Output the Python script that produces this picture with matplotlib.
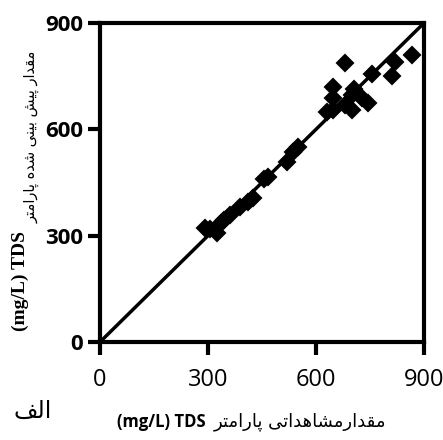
import matplotlib
matplotlib.use("Agg")
from matplotlib import pyplot as plt

observed = [292, 305, 325, 335, 345, 360, 390, 410, 425, 455, 468, 520, 535, 550,
            630, 648, 648, 648, 680, 681, 700, 705, 700, 728, 745, 755, 810, 819, 867]
predicted = [322, 318, 307, 336, 344, 358, 381, 395, 406, 460, 465, 508, 535, 550,
             649, 720, 688, 654, 787, 669, 697, 715, 655, 688, 675, 755, 750, 790, 810]
one_to_one = [0, 900]
ticks = [0, 300, 600, 900]
tick_labels = ['0', '300', '600', '900']

xlabel_fa = 'مقدارمشاهداتی پارامتر'
ylabel_fa = 'مقدار پیش بینی شده پارامتر'
unit_label = '(mg/L) TDS'
panel_fa = 'الف'

# matplotlib has no arabic shaping, so pick presentation forms by hand
# letter: (isolated, final, initial, medial); no initial -> joins only to the right
FORMS = {
    'ا': ('\uFE8D', '\uFE8E', None, None),
    'د': ('\uFEA9', '\uFEAA', None, None),
    'ر': ('\uFEAD', '\uFEAE', None, None),
    'م': ('\uFEE1', '\uFEE2', '\uFEE3', '\uFEE4'),
    'ق': ('\uFED5', '\uFED6', '\uFED7', '\uFED8'),
    'ش': ('\uFEB5', '\uFEB6', '\uFEB7', '\uFEB8'),
    'ه': ('\uFEE9', '\uFEEA', '\uFEEB', '\uFEEC'),
    'ت': ('\uFE95', '\uFE96', '\uFE97', '\uFE98'),
    'ی': ('\uFBFC', '\uFBFD', '\uFBFE', '\uFBFF'),
    'پ': ('\uFB56', '\uFB57', '\uFB58', '\uFB59'),
    'ب': ('\uFE8F', '\uFE90', '\uFE91', '\uFE92'),
    'ن': ('\uFEE5', '\uFEE6', '\uFEE7', '\uFEE8'),
    'ل': ('\uFEDD', '\uFEDE', '\uFEDF', '\uFEE0'),
    'ف': ('\uFED1', '\uFED2', '\uFED3', '\uFED4'),
}


def shape(text):
    out = []
    for i, ch in enumerate(text):
        if ch not in FORMS:
            out.append(ch)
            continue
        prev = text[i - 1] if i > 0 else ''
        nxt = text[i + 1] if i + 1 < len(text) else ''
        join_prev = prev in FORMS and FORMS[prev][2] is not None
        join_next = nxt in FORMS and FORMS[ch][2] is not None
        iso, fin, ini, med = FORMS[ch]
        if join_prev and join_next:
            out.append(med)
        elif join_prev:
            out.append(fin)
        elif join_next:
            out.append(ini)
        else:
            out.append(iso)
    return ''.join(out)[::-1]


fig = plt.figure(figsize=(4.43, 4.40), dpi=100)
ax = fig.add_axes([100 / 443, 1 - 342 / 440, 324 / 443, 319 / 440])

ax.plot(one_to_one, one_to_one, color='black', lw=2.5, solid_capstyle='butt')
ax.plot(observed, predicted, 'D', color='black', ms=8, mew=1.5, ls='none')

ax.set_xlim(0, 900)
ax.set_ylim(0, 900)
for s in ax.spines.values():
    s.set_linewidth(3)
ax.tick_params(direction='out', length=9, width=3)
ax.tick_params(axis='x', pad=10)
ax.tick_params(axis='y', pad=3)
ax.set_xticks(ticks)
ax.set_xticklabels(tick_labels, family='Open Sans', fontsize=17)
ax.set_yticks(ticks)
ax.set_yticklabels(tick_labels, family='Open Sans', fontweight='bold', fontsize=16)

fig.text(20 / 443, 1 - 281 / 440, unit_label, rotation=90, ha='center', va='center',
         family='Liberation Serif', fontweight='bold', fontsize=14)
fig.text(32 / 443, 1 - 137 / 440, shape(ylabel_fa), rotation=90, ha='center', va='center',
         family='DejaVu Sans', fontsize=10.5)
fig.text(161 / 443, 1 - 422 / 440, unit_label, ha='center', va='center',
         family='Open Sans', fontweight='bold', fontsize=12)
fig.text(300 / 443, 1 - 422 / 440, shape(xlabel_fa), ha='center', va='center',
         family='DejaVu Sans', fontsize=13)
fig.text(33 / 443, 1 - 411 / 440, shape(panel_fa), ha='center', va='center',
         family='DejaVu Sans', fontsize=17)

fig.savefig('out.png', dpi=100)
